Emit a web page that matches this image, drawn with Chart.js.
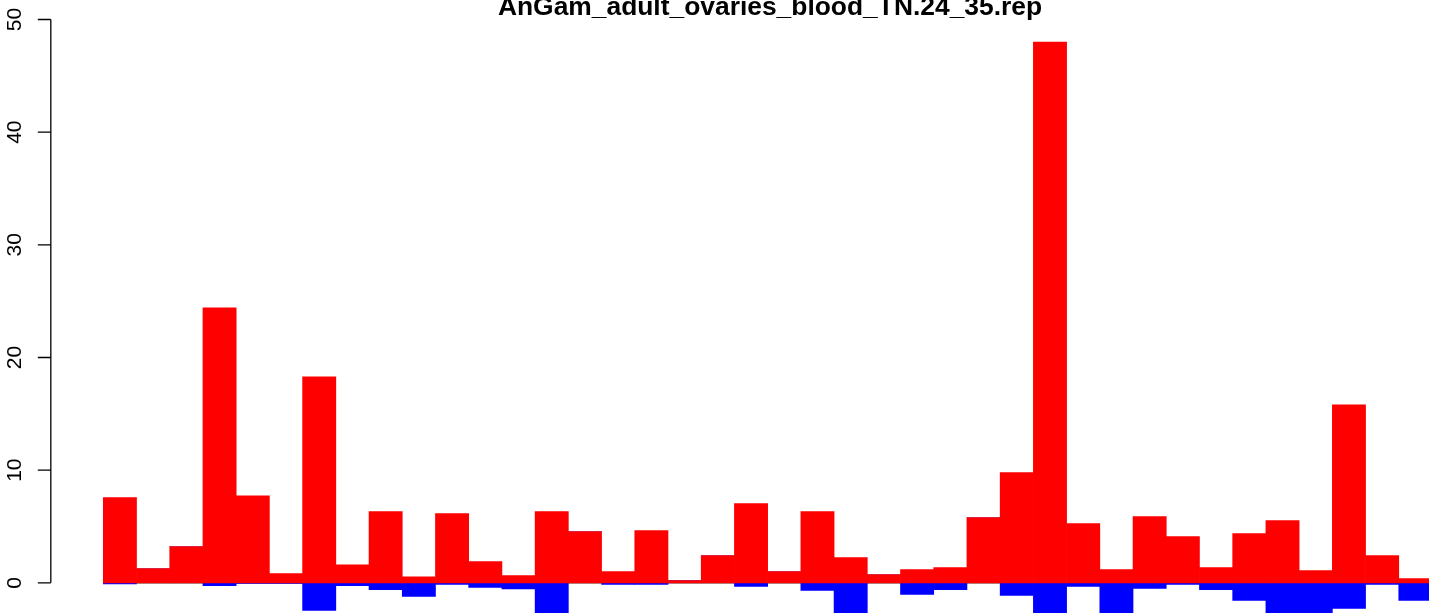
<!DOCTYPE html>
<html>
<head>
<meta charset="utf-8">
<title>AnGam_adult_ovaries_blood_TN.24_35.rep</title>
<script src="https://cdn.jsdelivr.net/npm/chart.js@4.4.1/dist/chart.umd.min.js"></script>
<style>
  html, body { margin: 0; padding: 0; background: #fff; overflow: hidden; }
  #wrap { width: 1429px; height: 613px; position: relative; }
</style>
</head>
<body>
<div id="wrap"><canvas id="repChart" width="1429" height="613"></canvas></div>
<script>
// one bar per position, sense reads up (red), antisense reads down (blue)
var chartTitle = 'AnGam_adult_ovaries_blood_TN.24_35.rep';
var positions = [];
for (var i = 1; i <= 40; i++) positions.push(i);
var senseValues = [7.57, 1.27, 3.22, 24.4, 7.72, 0.83, 18.28, 1.6, 6.33, 0.53,
                   6.15, 1.89, 0.65, 6.33, 4.55, 1.0, 4.64, 0.2, 2.42, 7.04,
                   1.0, 6.33, 2.25, 0.74, 1.18, 1.36, 5.8, 9.79, 48.0, 5.26,
                   1.18, 5.88, 4.11, 1.36, 4.37, 5.53, 1.09, 15.79, 2.42, 0.38];
var antisenseValues = [-0.1, 0, 0, -0.25, -0.05, -0.05, -2.45, -0.25, -0.6, -1.2,
                       -0.15, -0.4, -0.55, -3.4, 0, -0.15, -0.15, 0, 0, -0.33,
                       0, -0.68, -3.1, 0, -1.04, -0.6, 0, -1.13, -3.8, -0.33,
                       -3.2, -0.5, -0.15, -0.6, -1.57, -4.2, -3.5, -2.28, -0.15, -1.57];
var yTicks = [0, 10, 20, 30, 40, 50];
var axisAt = -1.08; // x-position of the y axis line, in bar units

function toPoints(vals) {
    return vals.map(function (v, i) { return { x: positions[i], y: v }; });
}

var font = '"Liberation Sans", Arial, Helvetica, sans-serif';

// zero line, y axis and title drawn in R style
var rStyle = {
    id: 'rStyle',
    beforeDatasetsDraw: function (chart) {
        var c = chart.ctx, xs = chart.scales.x, ys = chart.scales.y;
        var y0 = Math.round(ys.getPixelForValue(0)) + 0.5;
        c.save();
        c.strokeStyle = '#a0a0a0';
        c.lineWidth = 1;
        c.beginPath();
        c.moveTo(xs.getPixelForValue(0.5), y0);
        c.lineTo(chart.width, y0);
        c.stroke();
        c.restore();
    },
    afterDraw: function (chart) {
        var c = chart.ctx, xs = chart.scales.x, ys = chart.scales.y;
        var ax = xs.getPixelForValue(axisAt);
        c.save();
        c.strokeStyle = '#000';
        c.lineWidth = 1.3;
        c.beginPath();
        c.moveTo(ax, ys.getPixelForValue(yTicks[0]));
        c.lineTo(ax, ys.getPixelForValue(yTicks[yTicks.length - 1]));
        yTicks.forEach(function (t) {
            var py = ys.getPixelForValue(t);
            c.moveTo(ax, py);
            c.lineTo(ax - 13, py);
        });
        c.stroke();

        c.fillStyle = '#000';
        c.font = '21px ' + font;
        c.textAlign = 'center';
        c.textBaseline = 'alphabetic';
        yTicks.forEach(function (t) {
            var py = ys.getPixelForValue(t);
            c.save();
            c.translate(21, py);
            c.rotate(-Math.PI / 2);
            c.fillText(String(t), 0, 0);
            c.restore();
        });

        c.font = 'bold 26.4px ' + font;
        c.fillText(chartTitle, 770, 15);
        c.restore();
    }
};

var ctx = document.getElementById('repChart').getContext('2d');
var repChart = new Chart(ctx, {
    type: 'bar',
    data: {
        datasets: [{
            label: 'sense',
            data: toPoints(senseValues),
            backgroundColor: '#ff0000',
            borderWidth: 0
        }, {
            label: 'antisense',
            data: toPoints(antisenseValues),
            backgroundColor: '#0000ff',
            borderWidth: 0
        }]
    },
    options: {
        responsive: false,
        animation: false,
        layout: { padding: 0 },
        datasets: {
            bar: { categoryPercentage: 1.0, barPercentage: 1.0 }
        },
        plugins: {
            legend: { display: false },
            tooltip: { enabled: false },
            title: { display: false }
        },
        scales: {
            x: {
                type: 'linear', display: false, stacked: true, offset: false,
                grid: { offset: false }, min: -2.61, max: 40.41
            },
            y: { display: false, stacked: true, min: -2.68, max: 51.73 }
        }
    },
    plugins: [rStyle]
});
</script>
</body>
</html>
